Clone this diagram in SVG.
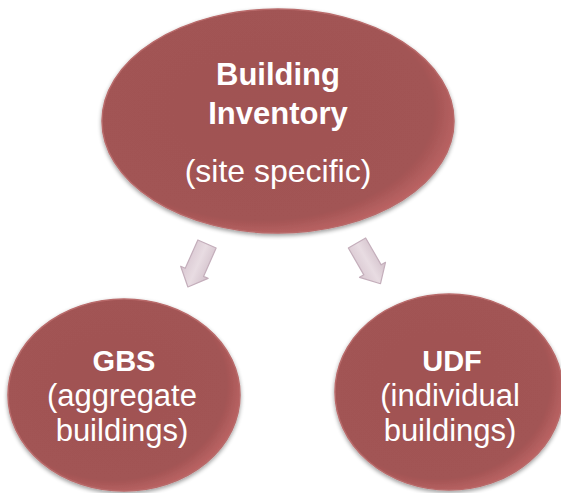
<svg xmlns="http://www.w3.org/2000/svg" width="561" height="493" viewBox="0 0 561 493">
<defs>
<radialGradient id="fill" cx="0.45" cy="0.45" r="0.6">
<stop offset="0" stop-color="#a05252"/>
<stop offset="0.82" stop-color="#a25454"/>
<stop offset="1" stop-color="#c66a6a"/>
</radialGradient>
<linearGradient id="arrowG" x1="0" y1="0" x2="1" y2="0">
<stop offset="0" stop-color="#d8c6d0"/>
<stop offset="0.5" stop-color="#e8dce2"/>
<stop offset="1" stop-color="#d2c0ca"/>
</linearGradient>
<filter id="shadow" x="-10%" y="-10%" width="120%" height="125%">
<feGaussianBlur in="SourceAlpha" stdDeviation="2"/>
<feOffset dx="0" dy="2" result="b"/>
<feComponentTransfer><feFuncA type="linear" slope="0.4"/></feComponentTransfer>
<feMerge><feMergeNode/><feMergeNode in="SourceGraphic"/></feMerge>
</filter>
</defs>
<style>
.node{fill:url(#fill);stroke:#b86a6a;stroke-width:1.5;filter:url(#shadow)}
text{font-family:"Liberation Sans","Open Sans",sans-serif;fill:#ffffff;text-anchor:middle;font-size:31px}
.b{font-weight:bold;font-size:29px}
.tb{font-weight:bold;font-size:31px}
.tr{font-size:32px}
.arrow{fill:url(#arrowG);stroke:#c4aebb;stroke-width:1.2;stroke-linejoin:round}
</style>
<g id="connectors">
<path class="arrow" transform="translate(207,244) rotate(24)" d="M-10,0 L10,0 L10,31 L15,31 L0,47 L-15,31 L-10,31 Z"/>
<path class="arrow" transform="translate(357,243) rotate(-30)" d="M-10,0 L10,0 L10,31 L15,31 L0,47 L-15,31 L-10,31 Z"/>
</g>
<g id="building-inventory">
<ellipse class="node" cx="278" cy="121" rx="176" ry="112"/>
<text class="tb" x="278" y="85">Building</text>
<text class="tb" x="278" y="124">Inventory</text>
<text class="tr" x="278" y="182">(site specific)</text>
</g>
<g id="gbs">
<ellipse class="node" cx="124" cy="395" rx="116" ry="96"/>
<text class="b" x="124" y="371">GBS</text>
<text x="122" y="406">(aggregate</text>
<text x="122" y="441">buildings)</text>
</g>
<g id="udf">
<ellipse class="node" cx="449" cy="392" rx="114" ry="98"/>
<text class="b" x="452" y="371">UDF</text>
<text x="450" y="406">(individual</text>
<text x="450" y="441">buildings)</text>
</g>
</svg>
